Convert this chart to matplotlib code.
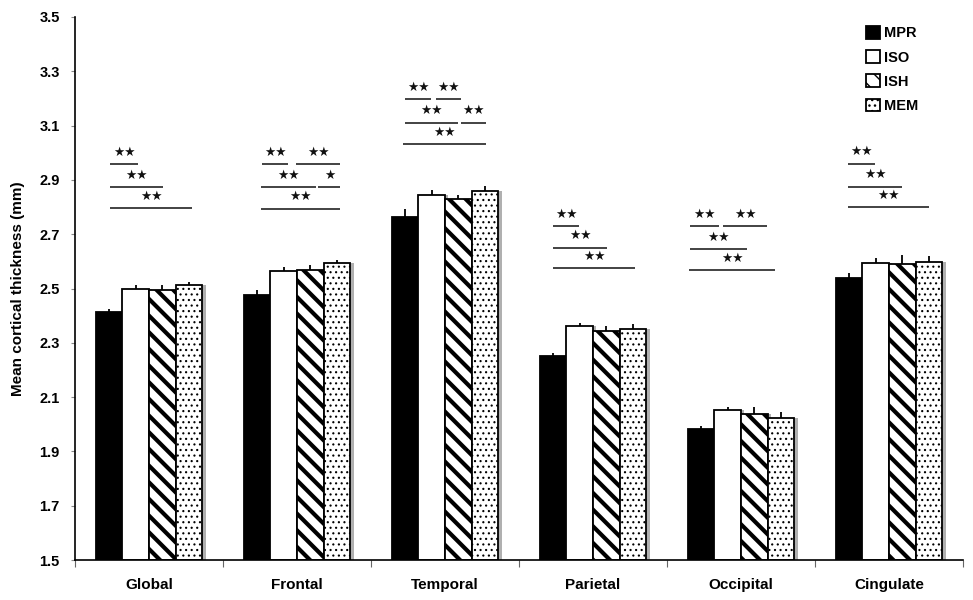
import matplotlib
matplotlib.use("Agg")
import matplotlib.pyplot as plt
import numpy as np

plt.rcParams['font.family'] = ['Liberation Sans', 'DejaVu Sans']

categories = ["Global", "Frontal", "Temporal", "Parietal", "Occipital", "Cingulate"]
series = ["MPR", "ISO", "ISH", "MEM"]
mpr = [2.413, 2.476, 2.763, 2.252, 1.984, 2.537]
iso = [2.500, 2.566, 2.843, 2.361, 2.052, 2.594]
ish = [2.493, 2.568, 2.828, 2.343, 2.037, 2.589]
mem = [2.512, 2.594, 2.858, 2.350, 2.022, 2.596]
mpr_err = [0.013, 0.020, 0.030, 0.012, 0.011, 0.020]
iso_err = [0.013, 0.015, 0.018, 0.012, 0.011, 0.018]
ish_err = [0.020, 0.018, 0.015, 0.020, 0.025, 0.035]
mem_err = [0.011, 0.012, 0.020, 0.018, 0.022, 0.022]
yticks = [1.5, 1.7, 1.9, 2.1, 2.3, 2.5, 2.7, 2.9, 3.1, 3.3, 3.5]

# significance annotations: category, from-slot, to-slot, level (mm), label
sig_cat = [0, 0, 0,
           1, 1, 1, 1, 1,
           2, 2, 2, 2, 2,
           3, 3, 3,
           4, 4, 4, 4,
           5, 5, 5]
sig_from = [0.03, 0.03, 0.03,
            0.2, 1.48, 0.13, 2.3, 0.13,
            0.0, 1.16, 0.0, 2.1, -0.08,
            0.0, 0.0, 0.0,
            -0.42, 0.82, -0.42, -0.46,
            -0.04, -0.04, -0.04]
sig_to = [1.09, 2.03, 3.12,
          1.18, 3.13, 2.2, 3.13, 3.13,
          0.97, 2.1, 1.99, 3.04, 3.04,
          0.97, 2.03, 3.08,
          0.67, 2.48, 1.73, 2.78,
          0.97, 1.99, 3.0]
sig_level = [2.958, 2.874, 2.796,
             2.957, 2.957, 2.873, 2.873, 2.794,
             3.197, 3.197, 3.111, 3.111, 3.032,
             2.730, 2.650, 2.574,
             2.730, 2.730, 2.644, 2.568,
             2.960, 2.875, 2.800]
sig_label = ["★★", "★★", "★★",
             "★★", "★★", "★★", "★", "★★",
             "★★", "★★", "★★", "★★", "★★",
             "★★", "★★", "★★",
             "★★", "★★", "★★", "★★",
             "★★", "★★", "★★"]

fig = plt.figure(figsize=(9.73, 6.0), dpi=100)
ax = fig.add_axes([75 / 973, 1 - 560 / 600, (963 - 75) / 973, (560 - 17) / 600])

x = np.arange(len(categories))
bw = 0.18
values = [mpr, iso, ish, mem]
errs = [mpr_err, iso_err, ish_err, mem_err]
faces = ["black", "white", "white", "white"]
hatches = [None, None, "\\\\", "..."]
hlw = [1, 1, 3.0, 0.8]

handles = []
for i, (vals, er) in enumerate(zip(values, errs)):
    pos = x + (i - 1.5) * bw
    vals = np.array(vals)
    # drop shadow
    ax.bar(pos + 0.022, vals - 1.5, bw, bottom=1.5, color="#b0b0b0",
           edgecolor="none", zorder=1)
    bars = ax.bar(pos, vals - 1.5, bw, bottom=1.5, color=faces[i],
                  edgecolor="black", linewidth=1.3, hatch=hatches[i],
                  zorder=2, label=series[i])
    for b in bars:
        try:
            b.set_hatch_linewidth(hlw[i])
        except Exception:
            pass
    handles.append(bars)
    ax.errorbar(pos, vals, yerr=[np.zeros(len(vals)), np.array(er)],
                fmt="none", ecolor="black", elinewidth=1.3, capsize=0, zorder=3)

for c, s0, s1, lv, lab in zip(sig_cat, sig_from, sig_to, sig_level, sig_label):
    x0 = c + (s0 - 1.5) * bw
    x1 = c + (s1 - 1.5) * bw
    ax.plot([x0, x1], [lv, lv], color="#222222", lw=1.2, solid_capstyle="butt")
    ax.text((x0 + x1) / 2, lv + 0.044, lab, ha="center", va="center",
            fontsize=9, family=["DejaVu Sans"], color="#111111")

ax.set_xlim(-0.5, len(categories) - 0.5)
ax.set_ylim(1.5, 3.5)
ax.set_yticks(yticks)
ax.set_yticklabels([f"{v:.1f}" for v in yticks], fontsize=10.5, fontweight="bold")
ax.set_xticks(x)
ax.set_xticklabels(categories, fontsize=11, fontweight="bold")
ax.set_xticks(np.arange(len(categories) + 1) - 0.5, minor=True)
ax.tick_params(axis="x", which="major", length=0, pad=13)
ax.tick_params(axis="x", which="minor", length=5, color="#666666", width=0.8)
ax.tick_params(axis="y", length=3, color="#888888", width=0.8, pad=8)
for sp in ["top", "right"]:
    ax.spines[sp].set_visible(False)
ax.spines["left"].set_linewidth(1.2)
ax.spines["bottom"].set_linewidth(1.2)

ax.set_ylabel("Mean cortical thickness (mm)", fontsize=11, fontweight="bold", labelpad=10)

leg = fig.legend(handles=handles, labels=series, loc="upper left",
                 bbox_to_anchor=(866 / 973, 1 - 26 / 600), frameon=False,
                 handlelength=0.95, handleheight=0.95, handletextpad=0.3,
                 labelspacing=0.68, prop={"weight": "bold", "size": 10.5},
                 borderpad=0, borderaxespad=0)

fig.savefig("out.png", dpi=100)
